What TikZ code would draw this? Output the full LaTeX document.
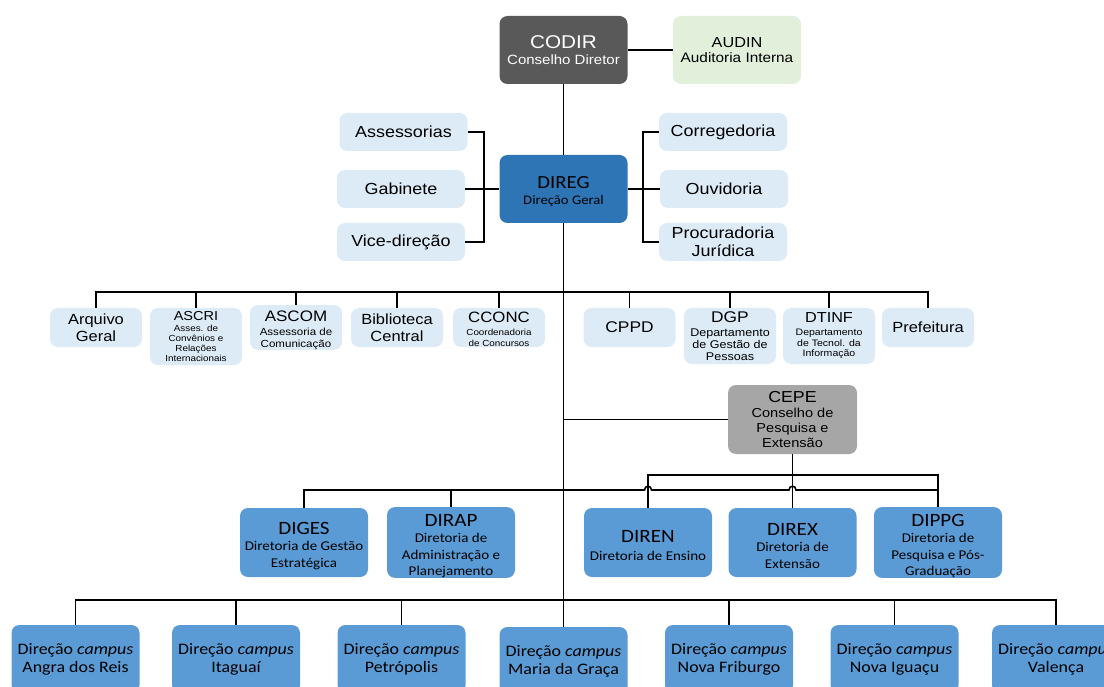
\documentclass[tikz,border=0pt]{standalone}
\usepackage{fontspec}
\setmainfont{Liberation Sans}[FakeStretch=1.12]
\newfontfamily\calfont{Carlito}[FakeStretch=1.12]
\usetikzlibrary{calc}
\newcommand\fsz[2]{\fontsize{#1}{#2}\selectfont}
\newcommand\dirtitle{\fsz{18.8}{20}\rule{0pt}{19pt}}
\definecolor{boxpale}{HTML}{DDEBF7}
\definecolor{boxmid}{HTML}{5B9BD5}
\definecolor{boxdeep}{HTML}{2E75B6}
\definecolor{codirgray}{HTML}{595959}
\definecolor{cepegray}{HTML}{A6A6A6}
\definecolor{audingreen}{HTML}{E2EFDA}
\tikzset{
  unit/.style={rounded corners=8pt, inner sep=0pt, align=center, text=black},
  board/.style={unit, minimum width=128, minimum height=68},
  staff/.style={unit, fill=boxpale, minimum width=128, minimum height=38, font=\fsz{16}{18}},
  sector/.style={unit, fill=boxpale, minimum width=92, minimum height=39},
  directorate/.style={unit, fill=boxmid, minimum width=128, minimum height=69, font=\calfont\fsz{13.4}{16.5}},
  campusbox/.style={directorate, minimum height=68, font=\calfont\fsz{16}{18}},
  link/.style={draw=black, line width=1.6pt}
}

\begin{document}
\begin{tikzpicture}[x=1pt,y=-1pt]
  \useasboundingbox (0,0) rectangle (1104,687);
  \clip (0,0) rectangle (1104,687);

  \node[board, fill=codirgray, text=white, font=\fsz{13.4}{16}] (codir) at (563.5,50) {{\fsz{18.5}{20}CODIR}\\Conselho Diretor};
  \node[board, fill=audingreen, font=\fsz{13.7}{15.5}] (audin) at (737,50) {{\fsz{14.5}{16}AUDIN}\\Auditoria Interna};
  \node[board, fill=boxdeep, font=\calfont\fsz{13.1}{15.5}] (direg) at (563.5,189) {{\fsz{18.5}{20}\rule{0pt}{17pt}DIREG}\\Direção Geral};

  \node[staff] (assess) at (403.5,132) {Assessorias};
  \node[staff] (gab) at (401,189) {Gabinete};
  \node[staff] (vice) at (401,242) {Vice-direção};
  \node[staff] (correg) at (723,132) {Corregedoria};
  \node[staff] (ouvid) at (724,189) {Ouvidoria};
  \node[staff] (procur) at (723,242) {Procuradoria\\Jurídica};
  \coordinate (lbend) at (484,189);
  \coordinate (rbend) at (643,189);

  \node[sector, font=\fsz{14.7}{17}] (arq) at (96,327.5) {Arquivo\\Geral};
  \node[sector, minimum height=57, font=\fsz{8.8}{10.3}] (ascri) at (196,336.5) {{\fsz{13}{14}ASCRI}\\[0.7pt]Asses. de\\Convênios e\\Relações\\Internacionais};
  \node[sector, font=\fsz{10.3}{12}] (ascom) at (296,327.5) {{\fsz{15.2}{16}\rule{0pt}{16pt}ASCOM}\\[2.5pt]Assessoria de\\Comunicação};
  \node[sector, font=\fsz{14.7}{17}] (bib) at (397,327.5) {Biblioteca\\Central};
  \node[sector, font=\fsz{8.8}{11}] (cconc) at (499,327.5) {{\fsz{15}{16}\rule{0pt}{15pt}CCONC}\\[2pt]Coordenadoria\\de Concursos};
  \node[sector, font=\fsz{15.5}{17}] (cppd) at (629.5,327.5) {CPPD};
  \node[sector, minimum height=56, font=\fsz{11.2}{12}] (dgp) at (730,336) {{\fsz{15.5}{16}DGP}\\[2.5pt]Departamento\\de Gestão de\\Pessoas};
  \node[sector, minimum height=56, font=\fsz{9.4}{10.5}] (dtinf) at (829,336) {{\fsz{14.5}{15}DTINF}\\[2.5pt]Departamento\\de Tecnol. da\\Informação};
  \node[sector, font=\fsz{14.7}{17}] (pref) at (928,327.5) {Prefeitura};
  \coordinate (bus2) at (563,292);

  \node[board, fill=cepegray, minimum width=129, minimum height=69, font=\fsz{13}{15}] (cepe) at (792.5,419.5) {{\fsz{15.9}{16}CEPE}\\Conselho de\\Pesquisa e\\Extensão};

  \node[directorate] (diges) at (304,542.5) {{\dirtitle DIGES}\\Diretoria de Gestão\\Estratégica};
  \node[directorate] (dirap) at (451,542.5) {{\dirtitle DIRAP}\\Diretoria de\\Administração e\\Planejamento};
  \node[directorate] (diren) at (648,542.5) {{\dirtitle DIREN}\\[1.5pt]Diretoria de Ensino};
  \node[directorate] (direx) at (792.5,542.5) {{\dirtitle DIREX}\\Diretoria de\\Extensão};
  \node[directorate] (dippg) at (938,542.5) {{\dirtitle DIPPG}\\Diretoria de\\Pesquisa e Pós-\\Graduação};
  \coordinate (bus3a) at (563,475);
  \coordinate (bus3b) at (563,490);

  \node[campusbox] (angra) at (75.5,659) {Direção \textit{campus}\\Angra dos Reis};
  \node[campusbox] (itaguai) at (236,659) {Direção \textit{campus}\\Itaguaí};
  \node[campusbox] (petro) at (401.5,659) {Direção \textit{campus}\\Petrópolis};
  \node[campusbox] (maria) at (563.5,661) {Direção \textit{campus}\\Maria da Graça};
  \node[campusbox] (fribu) at (729,659) {Direção \textit{campus}\\Nova Friburgo};
  \node[campusbox] (iguacu) at (894.5,659) {Direção \textit{campus}\\Nova Iguaçu};
  \node[campusbox] (valenca) at (1056,659) {Direção \textit{campus}\\Valença};
  \coordinate (bus4) at (563,600);

  \draw[link] (codir) -- (audin);
  \draw[link] (codir) -- (direg);
  \draw[link] (direg) -- (maria);
  \draw[link] (assess.east) -| (lbend) |- (vice.east);
  \draw[link] (gab) -- (direg);
  \draw[link] (correg.west) -| (rbend) |- (procur.west);
  \draw[link] (ouvid) -- (direg);

  \draw[link] (arq.north) |- (pref.north |- bus2) -- (pref.north);
  \foreach \n in {ascri,ascom,bib,cconc,cppd,dgp,dtinf}
    \draw[link] (\n.north) -- (\n.north |- bus2);

  \draw[link] (cepe.west) -- (cepe.west -| direg);
  \draw[link] (cepe.south) -- (direx.north);
  \draw[link] (diren.north) |- (dippg.north |- bus3a) -- (dippg.north);
  \draw[link] (diges.north) |- ($(diren.north |- bus3b)+(-3.5,0)$)
    .. controls +(0,-5) and +(0,-5) .. ++(7,0)
    -- ($(direx.north |- bus3b)+(-3.5,0)$)
    .. controls +(0,-5) and +(0,-5) .. ++(7,0)
    -- (dippg.north |- bus3b);
  \draw[link] (dirap.north) -- (dirap.north |- bus3b);

  \draw[link] (angra.north) |- (valenca.north |- bus4) -- (valenca.north);
  \foreach \n in {itaguai,petro,fribu,iguacu}
    \draw[link] (\n.north) -- (\n.north |- bus4);
\end{tikzpicture}
\end{document}
